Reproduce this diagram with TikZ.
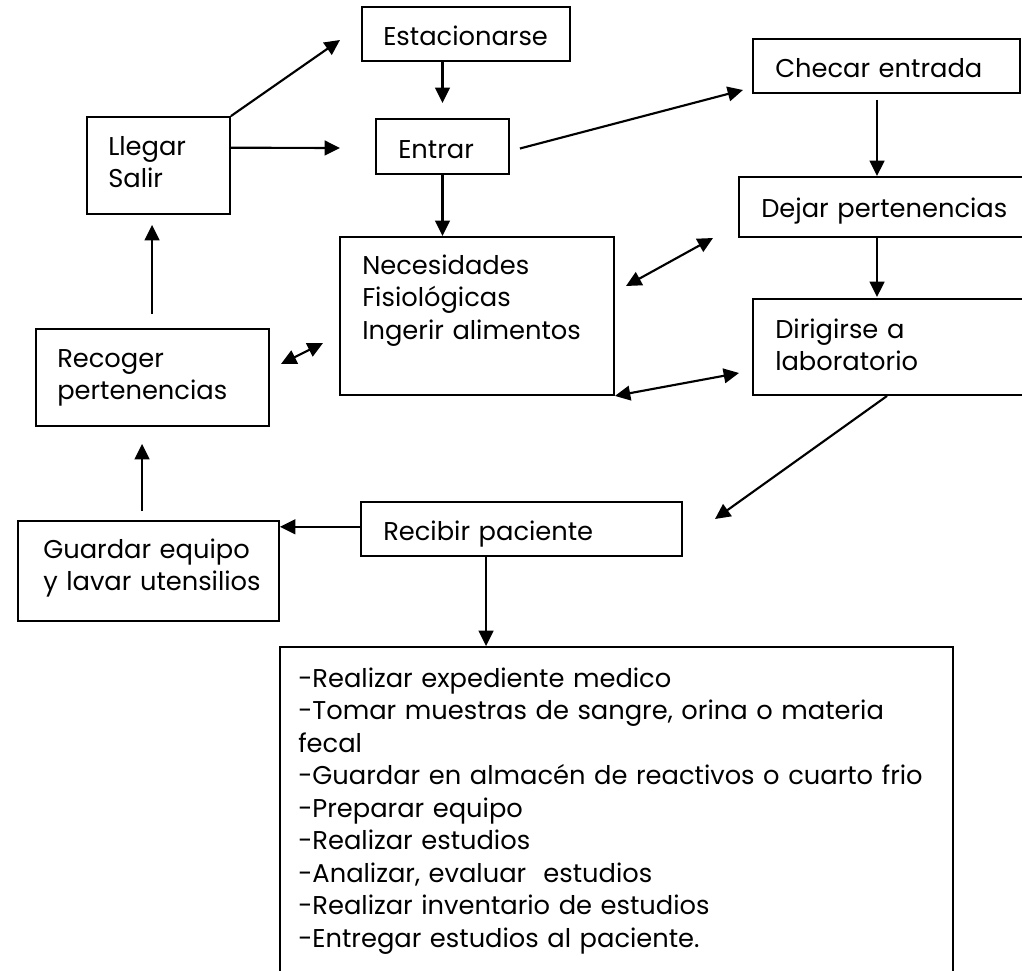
\documentclass[tikz,border=0pt]{standalone}
\usepackage{fontspec}
\setmainfont{Poppins}
\usepackage{tikz}
\usetikzlibrary{arrows.meta}
\usetikzlibrary{fit}
\usetikzlibrary{calc}
\tikzset{
    caja/.style={draw=black, line width=1.4pt, inner sep=0pt},
    texto/.style={anchor=base west, inner sep=0pt, text width=700pt, align=left,
        font=\fontsize{19.3}{24.4}\selectfont},
    flecha/.style={draw=black, line width=1.6pt, -{Triangle[length=11.5pt,width=11pt]}},
    doble/.style={draw=black, line width=1.6pt,
        {Triangle[length=11.5pt,width=11pt]}-{Triangle[length=11.5pt,width=11pt]}}
}
\begin{document}
\begin{tikzpicture}[x=0.75pt,y=-0.75pt]
\useasboundingbox (0,0) rectangle (1022,971);
\clip (0,0) rectangle (1022,971);
% cajas
\node[caja, fit={(362,7) (570,61)}] (est) {};
\node[caja, fit={(87,117) (230,214)}] (llegar) {};
\node[caja, fit={(376,119) (509,174)}] (entrar) {};
\node[caja, fit={(753,39) (1020,93)}] (checar) {};
\node[caja, fit={(739,177) (1040,237)}] (dejar) {};
\node[caja, fit={(753,299) (1040,395)}] (dirig) {};
\node[caja, fit={(340,237) (614,395)}] (nec) {};
\node[caja, fit={(36,329) (269,426)}] (recog) {};
\node[caja, fit={(18,521) (279,621)}] (guard) {};
\node[caja, fit={(361,502) (682,556)}] (recib) {};
\node[caja, fit={(280,647) (953,1000)}] (tareas) {};
% textos
\node[texto] (est-t) at (383,45) {Estacionarse};
\node[texto] (llegar-t) at (108,155) {Llegar\\Salir};
\node[texto] (entrar-t) at (398,158) {Entrar};
\node[texto] (checar-t) at (775,77) {Checar entrada};
\node[texto] (dejar-t) at (761,217) {Dejar pertenencias};
\node[texto] (dirig-t) at (775,338) {Dirigirse a\\laboratorio};
\node[texto] (nec-t) at (362,274) {Necesidades\\Fisiológicas\\Ingerir alimentos};
\node[texto] (recog-t) at (57,367) {Recoger\\pertenencias};
\node[texto] (guard-t) at (43,558) {Guardar equipo\\y lavar utensilios};
\node[texto] (recib-t) at (383,540) {Recibir paciente};
\node[texto] (tareas-t) at (298,687) {-Realizar expediente medico\\
  -Tomar muestras de sangre, orina o materia\\
  fecal\\
  -Guardar en almacén de reactivos o cuarto frio\\
  -Preparar equipo\\
  -Realizar estudios\\
  -Analizar, evaluar~ estudios\\
  -Realizar inventario de estudios\\
  -Entregar estudios al paciente.};
% extremos libres
\coordinate (f1) at (340,40);
\coordinate (f2) at (340,148);
\coordinate (f3) at (743,90);
\coordinate (f4) at (626,286);
\coordinate (f5) at (713,238);
\coordinate (f6) at (281,364);
\coordinate (f7) at (323,343);
\coordinate (f8) at (739,373);
\coordinate (f9) at (715,519);
% flechas
\draw[flecha] (llegar.north east) -- (f1);
\draw[flecha] ($(llegar.north east)!0.32!(llegar.south east)$) -- (f2);
\draw[flecha, shorten >=11.25pt] (est.south -| entrar.north) -- (entrar.north);
\draw[flecha] (entrar.south) -- (entrar.south |- nec.north);
\draw[flecha] ($(entrar.east)+(10,2)$) -- (f3);
\draw[flecha] ($(checar.south)+(-9.5,6)$) coordinate (c1) -- (c1 |- dejar.north);
\draw[flecha, shorten >=0.75pt] (c1 |- dejar.south) -- (c1 |- dirig.north);
\draw[doble] (f4) -- (f5);
\draw[doble] (f6) -- (f7);
\draw[doble] (nec.south east) -- (f8);
\draw[flecha] ($(dirig.south west)+(135,0)$) -- (f9);
\draw[flecha] ($(recib.north west)!0.46!(recib.south west)$) coordinate (c2) -- (c2 -| guard.east);
\draw[flecha] ($(recib.south west)+(126,0)$) coordinate (c3) -- (c3 |- tareas.north);
\draw[flecha, shorten >=12.75pt] ($(guard.north west)+(125,-9)$) coordinate (c4) -- (c4 |- recog.south);
\draw[flecha, shorten <=10.5pt, shorten >=7.5pt] ($(recog.north west)+(117,0)$) coordinate (c5) -- (c5 |- llegar.south);
\end{tikzpicture}
\end{document}
